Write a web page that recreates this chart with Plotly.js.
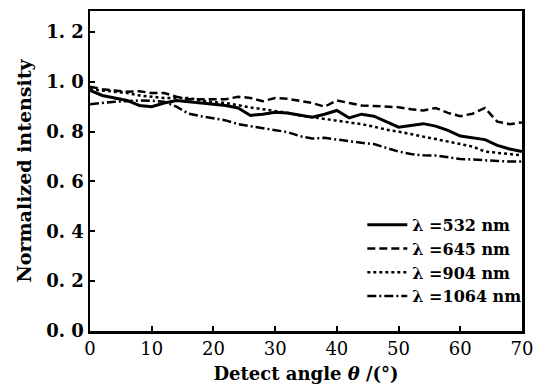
<!DOCTYPE html>
<html><head><meta charset="utf-8">
<script src="https://cdn.plot.ly/plotly-3.0.1.min.js"></script>
<style>html,body{margin:0;padding:0;background:#fff;}#chart{width:549px;height:389px;}</style>
</head><body><div id="chart"></div>
<script>
const angles = [0,2,4,6,8,10,12,14,16,18,20,22,24,26,28,30,32,34,36,38,40,42,44,46,48,50,52,54,56,58,60,62,64,66,68,70];
const i532 = [0.965,0.945,0.935,0.925,0.905,0.9,0.915,0.925,0.92,0.915,0.91,0.905,0.895,0.865,0.87,0.878,0.875,0.865,0.858,0.87,0.885,0.855,0.87,0.862,0.84,0.818,0.825,0.832,0.822,0.805,0.782,0.775,0.768,0.745,0.73,0.72];
const i645 = [0.98,0.97,0.965,0.96,0.962,0.955,0.955,0.94,0.93,0.93,0.928,0.93,0.94,0.935,0.922,0.935,0.932,0.925,0.915,0.9,0.925,0.915,0.905,0.903,0.9,0.898,0.89,0.885,0.895,0.875,0.862,0.872,0.895,0.84,0.83,0.837];
const i904 = [0.97,0.965,0.96,0.955,0.945,0.94,0.935,0.935,0.935,0.925,0.918,0.915,0.905,0.897,0.89,0.884,0.875,0.865,0.858,0.85,0.845,0.835,0.83,0.82,0.808,0.8,0.79,0.777,0.77,0.76,0.75,0.74,0.72,0.715,0.71,0.705];
const i1064 = [0.91,0.915,0.92,0.922,0.925,0.924,0.92,0.9,0.872,0.862,0.855,0.845,0.83,0.822,0.815,0.808,0.798,0.782,0.772,0.775,0.768,0.762,0.755,0.75,0.735,0.72,0.71,0.705,0.704,0.697,0.69,0.688,0.684,0.682,0.68,0.68];
const names = ['λ =532 nm','λ =645 nm','λ =904 nm','λ =1064 nm'];
const yTickVals = [0,0.2,0.4,0.6,0.8,1.0,1.2];
const yTickText = ['0. 0','0. 2','0. 4','0. 6','0. 8','1. 0','1. 2'];
const xTickVals = [0,10,20,30,40,50,60,70];

const serif = 'DejaVu Serif';
const traces = [
  {x: angles, y: i532, name: names[0], mode:'lines', line:{color:'#000', width:3, dash:'solid'}},
  {x: angles, y: i645, name: names[1], mode:'lines', line:{color:'#000', width:2.5, dash:'8px,4px'}},
  {x: angles, y: i904, name: names[2], mode:'lines', line:{color:'#000', width:2.5, dash:'3px,3px'}},
  {x: angles, y: i1064, name: names[3], mode:'lines', line:{color:'#000', width:2.5, dash:'9px,3px,2px,3px'}}
];
const layout = {
  width:549, height:389,
  margin:{l:90, r:27, t:11, b:58},
  paper_bgcolor:'#fff', plot_bgcolor:'#fff',
  showlegend:true,
  legend:{x:1.01, xanchor:'right', y:0.385, yanchor:'top', bgcolor:'rgba(0,0,0,0)',
    font:{family:serif, size:16, color:'#000', weight:'bold'}, tracegroupgap:0, itemwidth:40},
  xaxis:{range:[0,70], tickvals:xTickVals, ticks:'inside', ticklen:5, tickwidth:2, tickcolor:'#000',
    showline:true, linecolor:'#000', linewidth:2.5, mirror:true, showgrid:false, zeroline:false,
    tickfont:{family:serif, size:18, color:'#000'},
    title:{text:'Detect angle <i>θ</i> /(°)', font:{family:serif, size:18, color:'#000', weight:'bold'}, standoff:10}},
  yaxis:{range:[0,1.284], tickvals:yTickVals, ticktext:yTickText, ticks:'inside', ticklen:5, tickwidth:2, tickcolor:'#000',
    showline:true, linecolor:'#000', linewidth:2.5, mirror:true, showgrid:false, zeroline:false,
    tickfont:{family:serif, size:18, color:'#000', weight:'bold'},
    title:{text:'Normalized intensity', font:{family:serif, size:19, color:'#000', weight:'bold'}, standoff:10}}
};
Plotly.newPlot('chart', traces, layout, {displayModeBar:false, staticPlot:true});
</script></body></html>
